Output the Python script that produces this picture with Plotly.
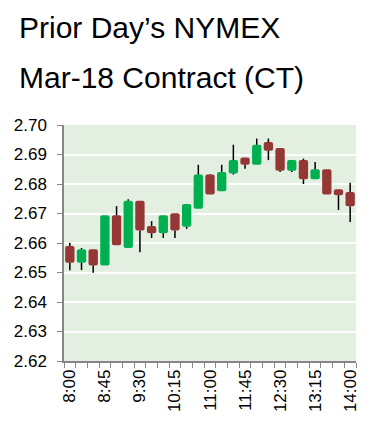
import plotly.graph_objects as go

times = ["8:00", "8:15", "8:30", "8:45", "9:00", "9:15", "9:30", "9:45",
         "10:00", "10:15", "10:30", "10:45", "11:00", "11:15", "11:30", "11:45",
         "12:00", "12:15", "12:30", "12:45", "13:00", "13:15", "13:30", "13:45", "14:00"]
open_ = [2.6590, 2.6533, 2.6579, 2.6524, 2.6694, 2.6583, 2.6743, 2.6658, 2.6633, 2.6701,
         2.6655, 2.6716, 2.6832, 2.6775, 2.6836, 2.6890, 2.6865, 2.6942, 2.6922, 2.6845,
         2.6881, 2.6816, 2.6850, 2.6782, 2.6773]
close = [2.6533, 2.6579, 2.6524, 2.6694, 2.6592, 2.6743, 2.6642, 2.6633, 2.6694, 2.6642,
         2.6732, 2.6832, 2.6764, 2.6841, 2.6881, 2.6865, 2.6933, 2.6913, 2.6845, 2.6881,
         2.6816, 2.6850, 2.6764, 2.6762, 2.6725]
high = [2.6601, 2.6583, 2.6579, 2.6694, 2.6725, 2.6748, 2.6743, 2.6674, 2.6694, 2.6701,
        2.6732, 2.6865, 2.6834, 2.6865, 2.6933, 2.6890, 2.6954, 2.6954, 2.6922, 2.6881,
        2.6886, 2.6875, 2.6850, 2.6782, 2.6804]
low = [2.6508, 2.6508, 2.6499, 2.6524, 2.6592, 2.6583, 2.6569, 2.6617, 2.6617, 2.6617,
       2.6648, 2.6716, 2.6764, 2.6775, 2.6832, 2.6852, 2.6865, 2.6881, 2.6841, 2.6841,
       2.6800, 2.6816, 2.6764, 2.6712, 2.6671]

title_lines = ["Prior Day\u2019s NYMEX", "Mar-18 Contract (CT)"]

UP = "#00B050"
DOWN = "#953735"
AXIS = "#868686"

bases = [min(o, c) for o, c in zip(open_, close)]
tops = [max(o, c) for o, c in zip(open_, close)]
heights = [abs(c - o) for o, c in zip(open_, close)]
colors = [UP if c >= o else DOWN for o, c in zip(open_, close)]

# wicks: lower (low -> body bottom) and upper (body top -> high)
wx, wy = [], []
for t, lo, hi, b, tp in zip(times, low, high, bases, tops):
    if lo < b:
        wx += [t, t, None]
        wy += [lo, b, None]
    if hi > tp:
        wx += [t, t, None]
        wy += [tp, hi, None]

fig = go.Figure()
fig.add_trace(go.Bar(x=times, y=heights, base=bases, width=0.8,
                     marker=dict(color=colors, line=dict(width=0), cornerradius=2),
                     showlegend=False))
fig.add_trace(go.Scatter(x=wx, y=wy, mode="lines",
                         line=dict(color="black", width=1.5),
                         hoverinfo="skip", showlegend=False))

ticktext = [t if i % 3 == 0 else "" for i, t in enumerate(times)]

W, H = 367, 427
L, R, T, B = 56, 19, 117, 74
PW, PH = W - L - R, H - T - B

fig.update_layout(
    width=W, height=H,
    margin=dict(l=L, r=R, t=T, b=B),
    paper_bgcolor="white",
    plot_bgcolor="#E3EFE0",
    font=dict(family="Liberation Sans, Arial, sans-serif", color="black"),
    xaxis=dict(type="category", categoryorder="array", categoryarray=times,
               tickvals=times, ticktext=ticktext, tickson="boundaries",
               ticks="outside", ticklen=5, tickcolor=AXIS, tickwidth=1,
               showline=True, linecolor=AXIS, linewidth=1.5, automargin=False,
               showgrid=False, tickangle=-90, tickfont=dict(size=17),
               range=[-0.5, len(times) - 0.5]),
    yaxis=dict(range=[2.62, 2.70], dtick=0.01, tick0=2.62, tickformat=".2f",
               ticks="outside", ticklen=5, tickcolor=AXIS, tickwidth=1,
               showline=True, linecolor=AXIS, linewidth=1.5, automargin=False,
               showgrid=True, gridcolor="white", gridwidth=1.5,
               zeroline=False, tickfont=dict(size=17), ticklabelstandoff=7),
    annotations=[
        dict(text=title_lines[0], xref="paper", yref="paper",
             x=(9 - L) / PW, y=1 + (T - 19.5) / PH,
             xanchor="left", yanchor="middle", showarrow=False,
             font=dict(size=30, color="black")),
        dict(text=title_lines[1], xref="paper", yref="paper",
             x=(9 - L) / PW, y=1 + (T - 69.5) / PH,
             xanchor="left", yanchor="middle", showarrow=False,
             font=dict(size=30, color="black")),
    ],
)

fig.write_html("out.html")
